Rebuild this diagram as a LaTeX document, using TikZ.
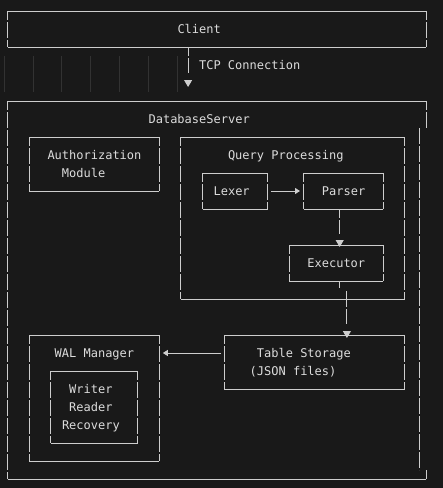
\documentclass[tikz,border=0pt]{standalone}
\usepackage{fontspec}
\setmonofont{DejaVu Sans Mono}
\usepackage{xcolor}
\usepackage{tikz}
\usetikzlibrary{arrows.meta,positioning}
\definecolor{termbg}{RGB}{25,25,25}
\definecolor{termfg}{RGB}{220,220,220}
\definecolor{termline}{RGB}{205,205,205}
\definecolor{guidegray}{RGB}{50,50,50}
\newcommand{\asciiframe}[1]{%
  \draw[hl] (#1.north west) -- (#1.north east) (#1.south west) -- (#1.south east);
  \draw[vl] (#1.north west) -- (#1.south west) (#1.north east) -- (#1.south east);}

\begin{document}
\begin{tikzpicture}[x=1pt,y=-1pt,
    bx/.style={inner sep=0pt,outer sep=0pt},
    t/.style={inner sep=0pt,anchor=base west,align=left,
              font=\ttfamily\fontsize{12}{18}\selectfont,text=termfg},
    hl/.style={draw=termline,line width=1pt},
    vl/.style={draw=termline,line width=1pt,dash pattern=on 16pt off 2pt,dash phase=7pt},
    a/.style={draw=termline,line width=1pt,-{Triangle[length=5pt,width=6pt]}},
    tri/.style={draw=termline,line width=1pt,-{Triangle[length=7pt,width=8pt]}}]
  \fill[termbg] (0,0) rectangle (443,488);
  \useasboundingbox (0,0) rectangle (443,488);
  \foreach \k in {0,...,6}
    \draw[guidegray,line width=0.6pt] ({4+28.88*\k},56) -- ++(0,36);

  \node[bx,minimum width=418.8pt,minimum height=36pt] (client) at (217,29) {};
  \node[bx,minimum width=418.8pt,minimum height=378pt] (dbs) at (217,290) {};
  \node[bx,minimum width=129.9pt,minimum height=54pt] (auth) at (94.25,164) {};
  \node[bx,minimum width=223.8pt,minimum height=162pt] (query) at (292.8,218) {};
  \node[bx,minimum width=65pt,minimum height=36pt] (lexer) at (235,191) {};
  \node[bx,minimum width=79.4pt,minimum height=36pt] (parser) at (343.3,191) {};
  \node[bx,minimum width=93.8pt,minimum height=36pt] (exec) at (336.1,263) {};
  \node[bx,minimum width=180.5pt,minimum height=54pt] (storage) at (314.45,362) {};
  \node[bx,minimum width=129.9pt,minimum height=126pt] (wal) at (94.25,398) {};
  \node[bx,minimum width=86.7pt,minimum height=72pt] (walparts) at (94.25,407) {};

  \node[t] (clientlbl) at (177.3,33.4) {Client};
  \node[t] (tcplbl) at (198.9,69.4) {TCP Connection};
  \node[t] (dbslbl) at (148.4,123.4) {DatabaseServer};
  \node[t] (authlbl) at (47.3,177.4) {Authorization\\\phantom{Au}Module};
  \node[t] (querylbl) at (227.8,159.4) {Query Processing};
  \node[t] (lexerlbl) at (213.4,195.4) {Lexer};
  \node[t] (parserlbl) at (321.7,195.4) {Parser};
  \node[t] (execlbl) at (307.2,267.4) {Executor};
  \node[t] (storagelbl) at (249.5,375.4) {\phantom{(}Table Storage\\(JSON files)};
  \node[t] (wallbl) at (54.5,357.4) {WAL Manager};
  \node[t] (walpartslbl) at (61.8,429.4) {\phantom{R}Writer\\\phantom{R}Reader\\Recovery};

  \asciiframe{client}
  \asciiframe{auth}
  \asciiframe{query}
  \asciiframe{lexer}
  \asciiframe{parser}
  \asciiframe{exec}
  \asciiframe{storage}
  \asciiframe{wal}
  \asciiframe{walparts}
  \draw[hl] (dbs.north west) -- (dbs.north east) (dbs.south west) -- (dbs.south east);
  \draw[vl] (dbs.north west) -- (dbs.south west) (dbs.north east) -- ++(0,27);
  \draw[vl,dash phase=0pt] ([xshift=-7.3pt]dbs.north east) ++(0,27) -- ([xshift=-7.3pt,yshift=9pt]dbs.south east);
  \draw[hl] ([yshift=9pt]dbs.south east) -- (dbs.south east);

  \coordinate (tcpin) at (188.1,87);
  \draw[vl] (client.south -| tcpin) -- (tcpin |- 0,73);
  \draw[tri] (tcpin |- 0,80) -- (tcpin);
  \draw[a] ([xshift=3.6pt]lexer.east) -- ([xshift=-3.6pt]parser.west);
  \draw[vl] ([xshift=-3.6pt]parser.south) -- ++(0,25);
  \draw[tri] ([xshift=3.6pt,yshift=5pt]exec.north) -- ([xshift=3.6pt,yshift=-2pt]exec.north);
  \draw[vl] ([xshift=3.6pt]exec.south) -- ++(0,7);
  \coordinate (drop) at (346.9,291);
  \draw[vl,dash phase=0pt] (drop) -- (drop |- 0,324);
  \draw[tri] (drop |- 0,331) -- ([yshift=-3pt]storage.north -| drop);
  \draw[a] ([xshift=-3.6pt,yshift=9pt]storage.west) -- ++(-57.8,0);
\end{tikzpicture}
\end{document}
